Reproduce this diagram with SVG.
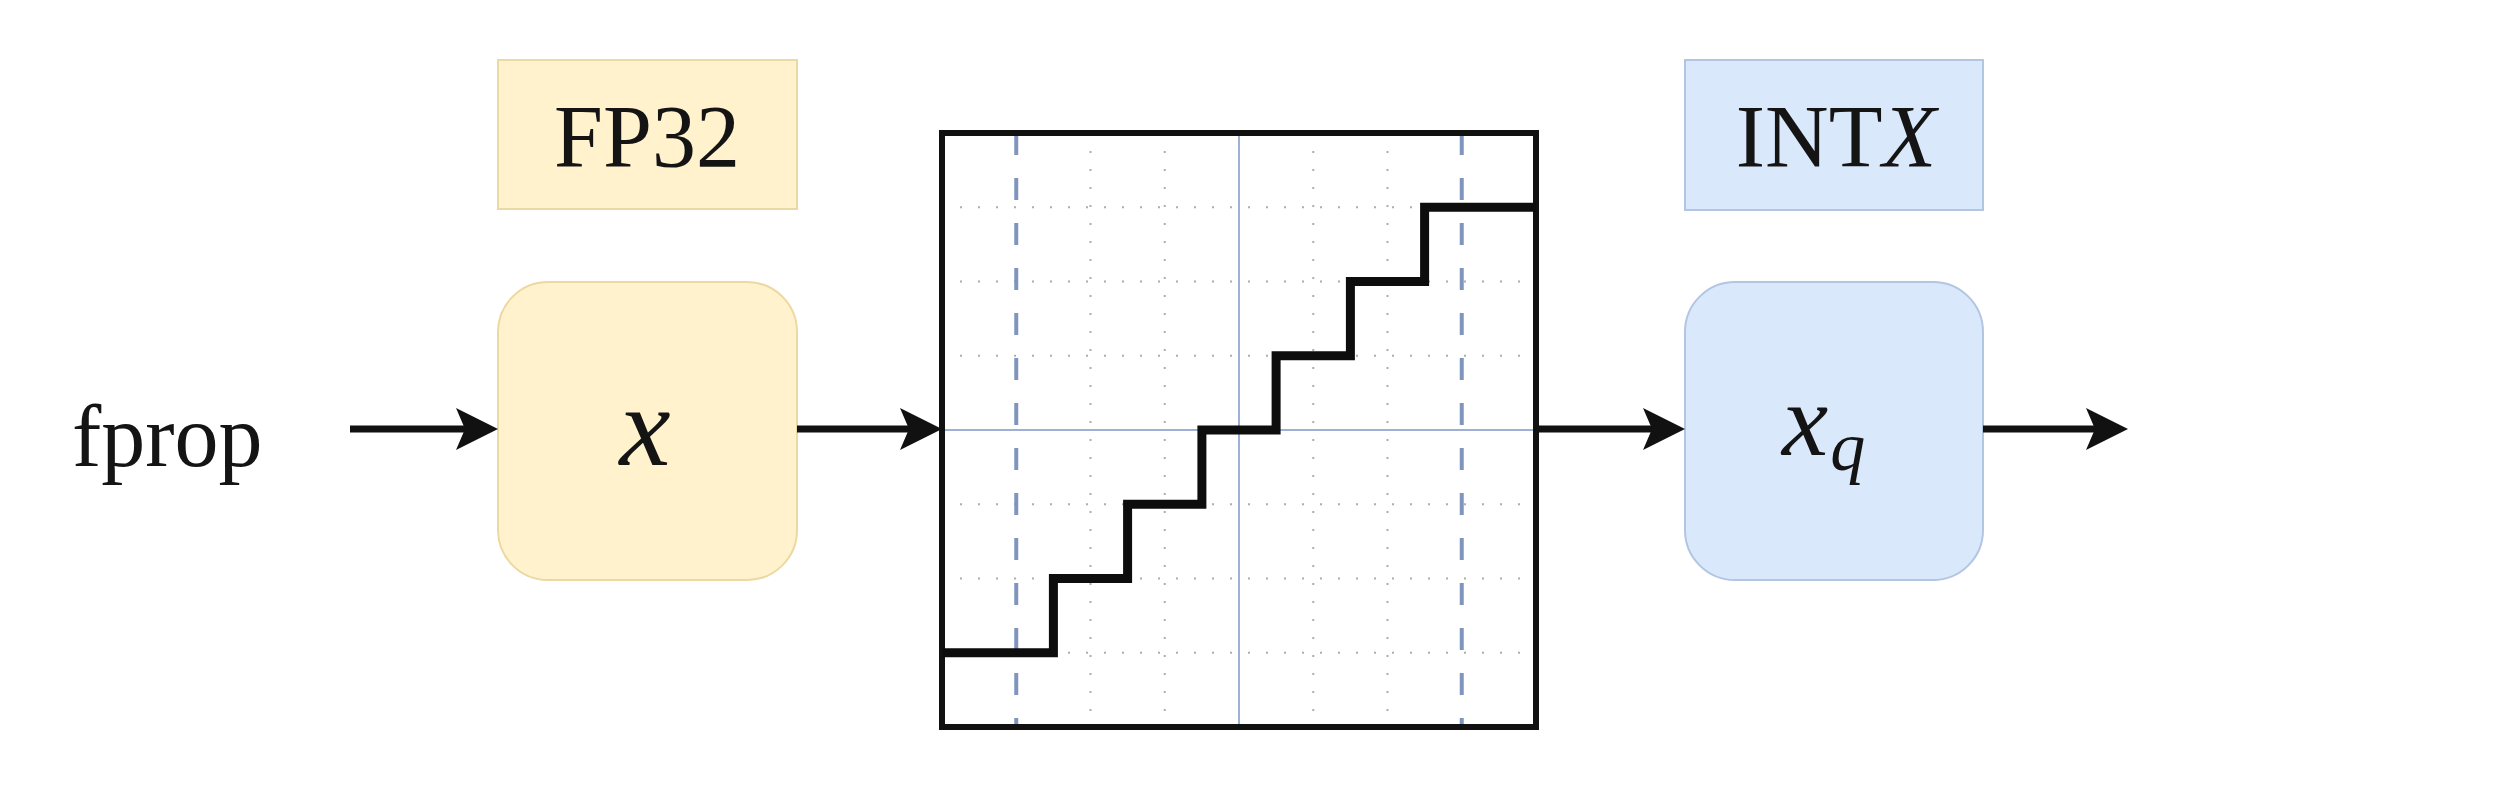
<svg xmlns="http://www.w3.org/2000/svg" width="2500" height="788" viewBox="0 0 2500 788">
<style>
.txt{font-family:"Liberation Serif","Times New Roman",serif;fill:#141414}
.it{font-style:italic}
.yel{fill:#fff2cc;stroke:#ecd8a2;stroke-width:2}
.blu{fill:#dae8fc;stroke:#b2c5e2;stroke-width:2}
.conn{stroke:#111;stroke-width:7;fill:none}
.dot{stroke:#8a8a8a;stroke-width:2;stroke-dasharray:2 16;fill:none;opacity:0.7}
.axis{stroke:#9fb0d6;stroke-width:2;fill:none}
.dash{stroke:#8095be;stroke-width:4;stroke-dasharray:22 23;fill:none}
</style>
<defs>
<marker id="arr" viewBox="0 0 42 42" markerWidth="42" markerHeight="42" markerUnits="userSpaceOnUse" refX="9" refY="21" orient="auto">
<path d="M0,0 L42,21 L0,42 L9,21 Z" fill="#111"/>
</marker>
</defs>
<rect width="2500" height="788" fill="#ffffff"/>

<g id="fprop">
<text class="txt" x="72" y="466" font-size="88">fprop</text>
</g>

<g id="fp32-label">
<rect class="yel" x="498" y="60" width="299" height="149"/>
<text class="txt" x="647" y="166" font-size="88" text-anchor="middle">FP32</text>
</g>

<g id="x-node">
<rect class="yel" x="498" y="282" width="299" height="298" rx="50" ry="50"/>
<text class="txt it" x="645" y="465" font-size="115" text-anchor="middle">x</text>
</g>

<g id="quantizer">
<g id="grid">
<line class="dot" x1="1090.5" y1="133" x2="1090.5" y2="727"/>
<line class="dot" x1="1164.75" y1="133" x2="1164.75" y2="727"/>
<line class="dot" x1="1313.25" y1="133" x2="1313.25" y2="727"/>
<line class="dot" x1="1387.5" y1="133" x2="1387.5" y2="727"/>
<line class="dot" x1="942" y1="207.25" x2="1536" y2="207.25"/>
<line class="dot" x1="942" y1="281.5" x2="1536" y2="281.5"/>
<line class="dot" x1="942" y1="355.75" x2="1536" y2="355.75"/>
<line class="dot" x1="942" y1="504.25" x2="1536" y2="504.25"/>
<line class="dot" x1="942" y1="578.5" x2="1536" y2="578.5"/>
<line class="dot" x1="942" y1="652.75" x2="1536" y2="652.75"/>
<line class="axis" x1="1239" y1="133" x2="1239" y2="727"/>
<line class="axis" x1="942" y1="430" x2="1536" y2="430"/>
<line class="dash" x1="1016.25" y1="133" x2="1016.25" y2="727"/>
<line class="dash" x1="1461.75" y1="133" x2="1461.75" y2="727"/>
</g>
<rect x="942" y="133" width="594" height="594" fill="none" stroke="#111" stroke-width="6"/>
<path d="M942,652.75 H1053.4 V578.5 H1127.6 V504.25 H1201.9 V430 H1276.1 V355.75 H1350.4 V281.5 H1424.6 V207.25 H1536" fill="none" stroke="#0d0d0d" stroke-width="9" stroke-linejoin="miter"/>
</g>

<g id="intx-label">
<rect class="blu" x="1685" y="60" width="298" height="150"/>
<text class="txt" x="1836" y="166" font-size="88" text-anchor="middle">INT<tspan class="it">X</tspan></text>
</g>

<g id="xq-node">
<rect class="blu" x="1685" y="282" width="298" height="298" rx="50" ry="50"/>
<text class="txt it" x="1782" y="455" font-size="104">x<tspan font-size="70" dy="15" dx="2">q</tspan></text>
</g>

<g id="connectors">
<line class="conn" x1="350" y1="429" x2="465" y2="429" marker-end="url(#arr)"/>
<line class="conn" x1="797" y1="429" x2="909" y2="429" marker-end="url(#arr)"/>
<line class="conn" x1="1536" y1="429" x2="1652" y2="429" marker-end="url(#arr)"/>
<line class="conn" x1="1983" y1="429" x2="2095" y2="429" marker-end="url(#arr)"/>
</g>
</svg>
